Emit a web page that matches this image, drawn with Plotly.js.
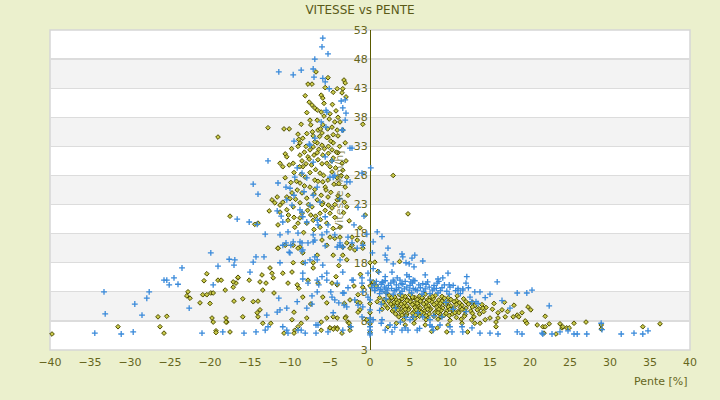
<!DOCTYPE html>
<html>
<head>
<meta charset="utf-8">
<script src="https://cdn.plot.ly/plotly-3.0.1.min.js"></script>
<style>html,body{margin:0;padding:0;background:#ebf0cd;}</style>
</head>
<body>
<div id="chart" style="width:720px;height:400px;"></div>
<script>
// ---- data: [pente %, vitesse] pairs ----
const oliveLeftTop = [[-6.75,45.8],[-5.25,44.8],[-3.25,44.4],[-3.1,43.9],[-7.75,43.7],[-7.25,43.7],[-4.1,42.9],[-3.4,42.9],[-4.6,42.3],[-3.5,42.2],[-8.1,41.7],[-6.1,41.8],[-5.9,41.3],[-3.0,41.5],[-7.6,40.6],[-5.75,40.4],[-7.25,40.1],[-6.9,39.6],[-6.6,39.25],[-6.1,38.9],[-4.25,39.1],[-5.0,38.6],[-4.0,38.0],[-5.75,38.2],[-7.5,37.5],[-6.6,37.5],[-5.1,37.7],[-4.4,37.2],[-3.75,37.2],[-0.9,36.8],[-12.75,36.2],[-10.75,36.0],[-10.1,36.0],[-8.6,36.8],[-7.4,36.7],[-6.5,35.8],[-5.9,36.7],[-4.75,36.3],[-4.1,35.8],[-3.4,35.8],[-9.0,35.1],[-8.4,34.4],[-7.1,34.8],[-6.0,35.3],[-5.25,34.6],[-4.0,34.8],[-8.75,33.6],[-6.6,33.6],[-4.6,33.6],[-3.1,33.6],[-19.0,34.6]];
const oliveLeftCore = [[-10.6,31.7],[-10.4,31.2],[-9.6,30.1],[-11.25,30.1],[-10.9,29.5],[-10.1,29.8],[-8.75,31.5],[-8.5,30.5],[-8.4,29.5],[-7.75,31.2],[-7.5,32.4],[-7.1,32.9],[-6.6,31.9],[-6.5,30.7],[-6.0,33.2],[-5.9,31.5],[-5.4,30.1],[-4.75,32.4],[-4.6,31.0],[-4.0,31.9],[-3.5,30.1],[-3.4,28.9],[-3.1,26.0],[-2.9,27.7],[-2.75,24.6],[-0.6,21.2],[-1.25,19.0],[-4.1,27.6],[-4.75,28.6],[-5.25,27.2],[-5.6,26.0],[-6.25,28.4],[-6.9,27.2],[-7.5,26.0],[-8.1,27.7],[-8.75,26.7],[-9.1,25.5],[-9.75,25.0],[-10.4,24.3],[-10.9,23.4],[-11.25,22.9],[-11.6,24.3],[-12.25,23.8],[-11.9,23.3],[-12.6,21.9],[-17.5,21.0],[-14.0,19.8],[-14.4,19.6],[-11.25,21.7],[-10.4,22.1],[-9.6,22.6],[-8.75,23.3],[-7.9,24.1],[-7.25,22.6],[-6.6,23.8],[-6.25,21.5],[-5.9,23.3],[-5.25,24.3],[-4.75,22.4],[-4.4,20.8],[-5.4,19.8],[-6.25,19.1],[-7.1,20.3],[-7.9,19.8],[-8.75,20.7],[-9.4,19.1],[-10.25,20.3],[-11.5,19.5],[-3.75,19.1],[-2.9,22.6],[-4.1,23.8],[-2.25,17.4],[-1.6,16.9],[-0.9,16.4],[-3.4,15.7],[-8.75,15.7],[-11.5,15.5],[-8.0,33.0],[-7.0,31.5],[-6.0,30.0],[-5.0,29.5],[-7.5,28.5],[-6.5,27.0],[-5.5,25.5],[-4.5,26.5],[-8.5,25.0],[-7.0,24.8],[-6.0,23.0],[-5.0,21.5],[-4.0,24.5],[-3.8,33.0],[-9.5,28.5],[-8.0,30.0],[-6.8,29.0],[-5.8,28.0],[-4.8,30.5],[-7.2,35.5],[-6.2,36.0],[-5.2,33.0],[-4.2,32.0],[-8.2,32.0],[-9.0,33.0],[-3.0,30.5],[-3.6,28.0],[-4.4,23.0],[-5.6,22.0],[-6.8,21.0],[-7.8,22.0],[-8.5,21.5],[-9.5,20.8],[-10.0,24.0],[-9.2,27.0],[-6.4,32.5],[-5.4,34.5],[-4.6,35.0],[-7.6,30.8],[-8.8,29.5],[-9.8,32.6],[-8.9,34.2],[-7.9,35.2],[-6.9,33.8],[-5.7,32.6],[-4.9,33.9],[-4.3,29.3],[-3.9,26.6],[-4.9,25.1],[-5.9,26.9],[-6.9,25.6],[-7.7,23.0],[-8.2,26.2],[-9.3,23.9],[-9.9,26.8],[-10.6,27.6],[-10.2,21.2],[-9.0,19.8],[-7.4,21.2],[-6.2,20.4],[-5.2,22.9],[-3.3,21.6],[-2.6,20.2],[-3.2,23.4],[-4.6,18.9],[-7.0,18.7],[-8.3,18.2],[-6.3,34.7],[-7.3,29.8],[-5.2,31.8],[-8.6,28.2],[-6.1,24.6],[-5.3,36.0],[-7.9,38.8],[-4.7,40.2],[-5.6,43.1]];
const oliveLeftLow = [[-39.75,0.75],[-31.5,2.0],[-26.25,2.0],[-25.75,0.9],[-26.5,3.7],[-25.4,3.8],[-22.75,8.0],[-22.9,7.3],[-22.5,6.9],[-21.25,6.1],[-20.9,7.5],[-20.4,7.5],[-20.75,9.9],[-20.4,11.1],[-19.9,7.8],[-19.6,7.8],[-19.75,3.5],[-19.6,2.8],[-19.25,1.3],[-19.0,10.0],[-18.6,10.0],[-18.1,8.3],[-18.0,3.5],[-17.9,2.8],[-17.5,1.1],[-17.1,8.8],[-17.0,6.4],[-16.75,9.5],[-16.5,10.4],[-15.9,6.8],[-15.9,3.7],[-14.6,6.3],[-14.0,6.4],[-14.0,3.7],[-13.75,4.9],[-13.4,8.3],[-13.0,9.5],[-12.5,12.1],[-12.25,11.2],[-12.1,10.4],[-12.0,7.8],[-10.9,11.2],[-10.25,9.5],[-9.75,11.4],[-9.75,3.2],[-9.4,1.4],[-9.1,9.2],[-8.9,8.6],[-8.6,2.6],[-7.9,3.5],[-8.4,7.1],[-7.75,10.0],[-7.1,12.1],[-6.5,9.5],[-5.9,7.1],[-5.4,6.1],[-5.4,3.5],[-5.0,1.8],[-4.4,1.8],[-4.1,1.8],[-4.1,3.5],[-4.75,9.5],[-4.25,10.6],[-3.4,14.3],[-2.9,13.5],[-2.5,15.5],[-2.25,16.0],[-1.9,15.2],[-1.6,6.3],[-1.5,7.5],[-1.25,4.9],[-3.0,3.7],[-2.75,2.8],[-2.5,1.4],[-0.9,15.5],[-0.4,3.2],[-11.5,15.5],[-10.6,16.0],[-9.6,16.0],[-9.0,15.5],[-8.4,14.7],[-9.6,13.0],[-8.4,13.0],[-5.4,16.0],[-5.0,17.4],[-6.0,16.9],[-4.4,17.2],[-3.75,17.4],[-6.6,14.3],[-7.1,13.0],[-2.9,16.4],[-13.5,10.9],[-15.1,10.0],[-16.5,10.5],[-17.1,9.7],[-13.75,9.7],[-20.0,6.0],[-19.25,1.0],[-18.0,2.8],[-14.1,4.4],[-13.4,2.6],[-12.4,2.6],[-9.5,0.9],[-9.0,2.0],[-10.75,0.9],[-6.1,1.4],[-5.0,1.8],[-4.1,1.6],[-3.5,0.9],[-2.6,2.6],[-9.5,4.5],[-7.4,5.9],[-6.1,2.8],[-4.6,3.7],[-4.6,14.3],[-3.9,12.5],[-4.1,9.2],[-2.5,6.6],[-1.25,6.1],[-1.5,4.5],[-4.6,1.6],[-3.1,3.5],[-2.5,2.0],[-0.9,8.8],[-1.2,11.0],[-2.0,9.0],[-3.2,6.0]];
const oliveAxis = [[0,13.0],[0,9.0],[0,6.0],[0,4.4],[0,2.5],[0,1.0],[0.6,13.1],[0.4,9.5],[0.9,6.3],[0.4,9.7],[2.9,28.0],[4.75,21.4],[3.7,13.2],[1.0,11.5],[0.8,9.0],[2.0,7.9],[1.2,7.0],[1.5,5.0]];
const oliveRightCluster = [[2.4,7.4],[3.1,7.1],[3.7,7.5],[4.4,7.2],[5.0,7.5],[5.6,7.0],[6.2,7.3],[6.9,7.6],[7.5,7.1],[8.2,7.4],[9.0,7.2],[9.8,7.0],[10.9,7.3],[1.8,6.7],[2.7,6.9],[3.3,6.6],[4.0,6.8],[4.7,6.6],[5.3,6.9],[5.9,6.7],[6.6,6.9],[7.2,6.6],[7.9,6.8],[8.6,6.6],[9.3,6.9],[10.1,6.7],[10.8,6.5],[11.7,6.8],[1.6,6.2],[2.3,6.4],[3.0,6.2],[3.6,6.4],[4.3,6.1],[5.0,6.3],[5.6,6.1],[6.3,6.4],[7.0,6.2],[7.7,6.3],[8.3,6.1],[9.0,6.4],[9.7,6.2],[10.5,6.3],[11.2,6.1],[12.0,6.3],[12.8,6.2],[1.9,5.7],[2.6,5.9],[3.3,5.7],[3.9,5.9],[4.6,5.6],[5.3,5.8],[6.0,5.7],[6.7,5.9],[7.3,5.6],[8.0,5.8],[8.7,5.7],[9.4,5.9],[10.1,5.6],[10.8,5.8],[11.5,5.7],[12.3,5.9],[13.1,5.6],[14.0,5.8],[2.2,5.2],[2.9,5.4],[3.6,5.2],[4.2,5.4],[4.9,5.1],[5.6,5.3],[6.3,5.2],[7.0,5.4],[7.6,5.1],[8.4,5.3],[9.1,5.2],[9.8,5.4],[10.5,5.1],[11.3,5.3],[12.0,5.2],[12.8,5.4],[13.6,5.1],[14.5,5.3],[15.3,5.0],[2.8,4.7],[3.5,4.9],[4.1,4.7],[4.8,4.9],[5.5,4.6],[6.1,4.8],[6.8,4.7],[7.5,4.9],[8.2,4.6],[8.9,4.8],[9.6,4.7],[10.3,4.9],[11.0,4.6],[11.8,4.8],[12.6,4.7],[13.4,4.9],[14.2,4.6],[3.2,4.2],[3.9,4.4],[4.6,4.2],[5.3,4.3],[6.0,4.1],[6.7,4.3],[7.4,4.2],[8.1,4.4],[8.8,4.1],[9.5,4.3],[10.3,4.2],[11.1,4.4],[11.9,4.1],[12.8,4.3],[13.7,4.2],[3.6,3.7],[4.5,3.9],[5.4,3.7],[6.2,3.8],[7.1,3.6],[8.0,3.8],[8.9,3.7],[9.9,3.9],[10.8,3.6],[11.8,3.8],[13.0,3.7],[4.2,3.2],[5.6,3.4],[7.0,3.2],[8.5,3.3],[10.0,3.1],[11.4,3.3],[12.7,3.2],[2.7,7.0],[4.0,7.3],[5.3,7.1],[6.5,7.0],[7.8,7.2],[3.4,6.1],[4.6,6.5],[5.9,6.0],[7.4,6.5],[8.8,6.0],[3.0,5.0],[4.4,5.0],[5.8,4.9],[7.2,5.0],[8.6,5.0],[10.0,5.0],[11.5,5.0],[4.0,4.0],[5.7,4.0],[7.0,3.9],[9.2,3.9],[6.4,4.5],[8.5,4.4],[10.6,4.4]];
const oliveRightTail = [[4.4,2.3],[6.9,2.3],[8.4,1.8],[9.6,1.1],[9.75,2.3],[11.5,2.6],[13.75,2.6],[14.4,3.2],[15.0,3.5],[15.75,2.8],[15.75,2.0],[16.0,3.5],[16.0,4.4],[16.5,4.9],[16.9,3.7],[17.9,3.7],[18.4,4.0],[18.6,3.7],[19.0,4.4],[19.4,3.0],[19.6,2.6],[19.75,5.4],[20.1,4.9],[20.9,2.3],[14.1,5.2],[13.1,2.6],[12.2,1.1],[3.3,2.6],[2.25,2.0],[5.5,2.6],[7.7,1.2],[21.9,3.8],[21.6,2.0],[21.9,2.0],[22.4,2.5],[21.75,0.9],[23.25,0.75],[23.75,2.5],[24.0,1.8],[24.1,2.0],[24.6,1.8],[24.9,1.8],[25.5,2.6],[27.0,2.8],[28.9,2.3],[28.9,1.6],[34.1,2.0],[36.25,2.5],[16.8,6.2],[18.0,5.7],[15.5,6.0],[17.2,4.6]];

const blueLeftTop = [[-5.9,51.6],[-6.0,50.1],[-5.25,48.9],[-6.9,48.0],[-11.4,45.8],[-9.6,45.3],[-8.6,46.1],[-7.1,46.3],[-7.0,44.9],[-5.9,44.7],[-5.6,44.1],[-5.1,42.9],[-3.6,40.8],[-3.0,38.7],[-5.5,39.2],[-5.4,38.9],[-6.1,37.2],[-3.1,37.5],[-5.5,36.3],[-3.5,35.8],[-9.5,33.9],[-6.9,34.4],[-7.6,33.4],[-2.5,32.7],[-3.1,41.0],[-3.4,39.6],[-3.4,35.8],[-2.25,32.7],[-2.5,26.9],[-4.4,28.0],[-3.8,24.0],[-1.5,22.5],[-2.0,19.5]];
const blueLeftCore = [[-12.75,30.5],[-14.6,26.5],[-14.0,24.8],[-16.6,20.5],[-15.1,20.0],[-14.1,19.6],[-11.1,21.0],[-10.9,20.0],[-11.6,21.9],[-11.5,26.7],[-10.5,26.0],[-10.0,25.8],[-10.4,23.8],[-9.4,27.7],[-9.1,29.3],[-9.5,24.6],[-8.75,22.1],[-8.5,21.7],[-8.4,20.9],[-7.9,20.0],[-8.25,25.2],[-7.1,24.6],[-6.6,20.3],[-6.5,19.5],[-5.6,20.9],[-5.25,19.5],[-6.0,17.8],[-4.75,30.5],[-5.0,27.7],[-2.9,26.9],[-1.0,28.4],[0.1,29.3],[-0.75,21.0],[-0.4,17.9],[0.9,18.3],[0.4,16.6],[-2.75,17.4],[-13.1,17.9],[-11.25,17.8],[-10.5,16.4],[-9.6,16.6],[-8.5,16.4],[-6.9,16.9],[-5.6,15.9],[-3.75,16.0],[-9.75,22.9],[-7.5,22.9],[-6.25,23.4],[-7.9,27.6],[-6.6,26.0],[-8.5,28.4],[-7.5,33.2],[-7.1,30.3],[-5.6,31.2],[-4.6,27.7]];
const blueLeftLow = [[-34.4,0.9],[-33.1,4.2],[-33.25,8.0],[-31.1,0.75],[-29.6,1.1],[-29.4,5.9],[-28.5,4.0],[-27.9,6.9],[-27.6,8.0],[-25.75,10.0],[-25.4,10.0],[-25.1,9.2],[-24.5,10.4],[-24.0,9.3],[-23.5,12.1],[-22.6,5.2],[-21.0,0.9],[-19.9,14.7],[-19.6,9.2],[-19.0,12.4],[-18.4,1.1],[-17.6,13.6],[-17.0,12.6],[-16.9,13.5],[-15.75,0.9],[-15.0,11.4],[-14.6,13.1],[-14.25,14.0],[-13.25,14.0],[-14.25,1.1],[-13.1,1.4],[-12.75,2.0],[-12.9,4.0],[-11.6,4.5],[-11.25,13.0],[-11.4,6.9],[-11.25,4.9],[-10.4,5.2],[-10.4,1.4],[-10.25,0.9],[-10.1,14.8],[-9.9,16.0],[-8.75,16.6],[-8.5,15.0],[-8.4,10.2],[-9.1,6.3],[-9.0,1.4],[-8.6,1.4],[-8.1,0.9],[-8.1,13.0],[-7.75,16.4],[-7.1,16.6],[-6.9,14.0],[-7.25,7.3],[-7.25,5.9],[-6.6,10.0],[-6.4,9.2],[-6.75,2.3],[-6.75,0.9],[-6.5,2.3],[-5.9,12.6],[-5.4,11.2],[-5.25,1.1],[-4.9,8.0],[-4.4,6.6],[-4.6,4.4],[-4.1,15.7],[-3.9,6.1],[-3.75,13.5],[-3.4,11.4],[-3.25,7.8],[-3.25,5.7],[-2.9,5.4],[-3.4,1.4],[-2.4,2.0],[-2.25,10.0],[-1.9,6.6],[-1.0,10.4],[-1.0,3.7],[-0.9,8.0],[-0.25,11.2],[-1.5,5.7],[-7.9,5.2],[-10.9,2.0],[-10.25,18.3],[-9.0,18.1],[-7.1,17.8],[-5.4,18.3],[-4.4,17.8],[-3.75,16.4],[-3.4,15.7],[-2.25,16.4],[-1.6,15.5],[-0.9,16.0],[-10.9,16.0],[-10.0,14.7],[-8.4,15.2],[-7.5,13.5],[-6.6,13.5],[-8.4,11.2],[-7.75,9.5],[-6.6,8.0],[-6.0,10.6],[-5.4,10.0],[-4.75,7.1],[-4.1,9.5],[-3.4,7.8],[-2.75,8.7],[-2.1,10.0],[-1.0,9.5],[-0.25,7.1],[-0.9,5.4]];
const blueAxis = [[0,3.5],[0,2.8],[0,2.0],[0,1.4],[0,0.9],[0,0.6],[0,4.9],[0,6.6],[0,10.0],[1.5,17.5]];
const blueRightBand = [[0.8,9.8],[1.9,9.9],[3.0,9.7],[4.4,9.8],[5.6,9.9],[7.2,9.7],[8.6,9.8],[0.5,9.2],[1.4,9.3],[2.3,9.1],[3.3,9.2],[4.1,9.3],[5.0,9.1],[6.1,9.2],[7.0,9.3],[8.0,9.1],[9.3,9.2],[10.4,9.1],[1.0,8.7],[1.8,8.8],[2.7,8.6],[3.6,8.7],[4.6,8.8],[5.4,8.6],[6.3,8.7],[7.4,8.8],[8.3,8.6],[9.0,8.7],[10.0,8.8],[11.0,8.6],[12.3,8.7],[0.6,8.2],[1.5,8.1],[2.2,8.3],[3.1,8.2],[4.0,8.1],[4.9,8.3],[5.9,8.2],[6.7,8.1],[7.8,8.3],[8.8,8.2],[9.6,8.1],[10.7,8.2],[11.6,8.3],[1.2,7.7],[2.0,7.8],[2.9,7.6],[3.8,7.7],[5.2,7.8],[6.5,7.6],[7.5,7.7],[8.5,7.8],[9.9,7.6],[11.3,7.7],[2.0,6.8],[1.4,5.9],[3.2,5.2],[6.0,4.4],[8.0,3.9],[10.4,5.0],[12.0,4.6],[4.5,3.6],[1.2,4.8],[9.5,6.2],[13.5,6.0],[1.5,9.6],[2.6,9.5],[3.9,9.4],[5.3,9.5],[6.6,9.4],[2.0,8.5],[3.3,8.4],[4.3,8.5],[5.7,8.4],[6.9,8.5],[8.0,8.5],[1.3,8.4]];
const blueRightUpper = [[12.5,7.1],[12.75,6.3],[13.25,6.3],[15.0,7.6],[13.1,8.0],[13.75,8.0],[15.9,9.7],[18.4,7.8],[19.6,7.8],[20.25,8.3],[22.4,5.6],[14.4,7.0],[16.5,6.5],[11.0,8.3],[11.6,8.5],[12.0,9.5],[12.1,10.6],[9.9,9.2],[8.4,9.5],[9.1,10.4],[9.75,11.2],[8.5,10.2],[6.9,10.9],[5.4,10.0],[5.1,9.7],[4.9,10.6],[4.6,10.9],[3.75,10.0],[3.4,10.4],[2.9,10.0],[1.6,9.7],[1.9,10.6],[1.1,11.4],[2.75,11.4],[2.9,12.8],[5.5,12.3],[4.5,13.0],[4.9,12.8],[6.6,13.3],[5.25,13.8],[5.6,14.3],[4.0,14.5],[4.1,14.0],[2.1,13.5],[1.9,14.3],[0.3,14.7],[2.25,15.5],[0.25,8.7],[0.6,8.3],[0.4,12.0],[17.5,5.2]];
const blueRightLow = [[1.5,3.2],[1.9,1.4],[2.75,1.1],[4.0,1.4],[4.4,1.8],[4.75,1.4],[5.9,1.4],[6.2,1.7],[7.5,2.3],[7.75,2.0],[7.9,1.4],[8.75,2.3],[10.0,2.0],[10.25,1.1],[11.5,2.0],[11.6,1.1],[12.75,1.8],[13.75,0.9],[15.0,0.9],[16.0,0.75],[18.4,1.1],[19.0,0.75],[21.5,0.9],[5.0,3.2],[9.0,3.7],[6.6,3.7],[5.4,3.7],[0.4,3.2],[7.5,3.2],[2.5,2.3],[3.1,1.9],[1.4,2.6],[3.8,2.8],[21.6,0.75],[22.75,0.75],[23.75,1.1],[24.75,1.3],[25.5,0.75],[25.9,0.75],[27.1,0.75],[28.9,2.6],[29.0,1.5],[31.4,0.75],[33.0,0.9],[34.1,0.75],[34.75,1.3],[42.9,0.6]];

const yTickVals = [-2,3,8,13,18,23,28,33,38,43,48,53];
const yTickText = ['3','8','8','18','18','23','28','33','38','43','48','53'];
const xTickVals = [-40,-35,-30,-25,-20,-15,-10,-5,0,5,10,15,20,25,30,35,40];

// ---- build traces ----
const olive = [].concat(oliveLeftTop, oliveLeftCore, oliveLeftLow, oliveAxis, oliveRightCluster, oliveRightTail);
const blue = [].concat(blueLeftTop, blueLeftCore, blueLeftLow, blueAxis, blueRightBand, blueRightUpper, blueRightLow);

const textColor = '#66661c';
const traces = [
  {
    x: olive.map(p => p[0]), y: olive.map(p => p[1]),
    type: 'scatter', mode: 'markers', cliponaxis: false, hoverinfo: 'skip',
    marker: {symbol: 'diamond', size: 3.6, color: '#c9c94a', line: {color: '#4e4e00', width: 1}}
  },
  {
    x: blue.map(p => p[0]), y: blue.map(p => p[1]),
    type: 'scatter', mode: 'markers', cliponaxis: false, hoverinfo: 'skip',
    marker: {symbol: 'cross-thin', size: 4.2, line: {color: '#3a8ada', width: 1.3}}
  }
];

// alternating horizontal bands
const shapes = [];
for (let i = 0; i < yTickVals.length - 1; i++) {
  const fromTop = yTickVals.length - 2 - i;
  if (fromTop % 2 === 1) {
    shapes.push({type: 'rect', xref: 'paper', yref: 'y', x0: 0, x1: 1, y0: yTickVals[i], y1: yTickVals[i + 1],
      fillcolor: '#f3f3f3', line: {width: 0}, layer: 'below'});
  }
}
shapes.push({type: 'rect', xref: 'paper', yref: 'paper', x0: 0, x1: 1, y0: 0, y1: 1,
  fillcolor: 'rgba(0,0,0,0)', line: {color: '#d6d6d6', width: 1.5}, layer: 'below'});

const layout = {
  width: 720, height: 400,
  margin: {l: 50, r: 30, t: 30, b: 50},
  paper_bgcolor: '#ebf0cd', plot_bgcolor: '#ffffff',
  showlegend: false,
  font: {family: 'DejaVu Sans, sans-serif', size: 11, color: textColor},
  title: {text: 'VITESSE vs PENTE', x: 0.5, xref: 'container', y: 0.975, yanchor: 'middle',
    font: {family: 'DejaVu Sans, sans-serif', size: 12, color: '#5a5a18'}},
  xaxis: {range: [-40, 40], tickvals: xTickVals, showgrid: false, zeroline: false, showline: false,
    ticks: '', ticklabelstandoff: 4, tickfont: {size: 11, color: textColor}, fixedrange: true},
  yaxis: {range: [-2, 53], tickvals: yTickVals, ticktext: yTickText, anchor: 'free', position: 0.5,
    showgrid: true, gridcolor: '#dcdcdc', gridwidth: 1.3, zeroline: false, showline: true,
    linecolor: '#5a5a00', linewidth: 1.3, ticks: '', layer: 'below traces',
    tickfont: {size: 11, color: textColor}, fixedrange: true},
  shapes: shapes,
  annotations: [
    {text: 'Vitesse [km/h]', xref: 'paper', yref: 'paper', x: 0.4516, y: 0.5, textangle: -90,
      showarrow: false, font: {size: 11, color: 'rgba(102,102,28,0.75)'}, xanchor: 'center', yanchor: 'middle'},
    {text: 'Pente [%]', xref: 'paper', yref: 'paper', x: 1, y: 0, xanchor: 'right', yanchor: 'top',
      yshift: -23, showarrow: false, font: {size: 11, color: textColor}}
  ]
};

Plotly.newPlot('chart', traces, layout, {staticPlot: true, displayModeBar: false});
</script>
</body>
</html>
